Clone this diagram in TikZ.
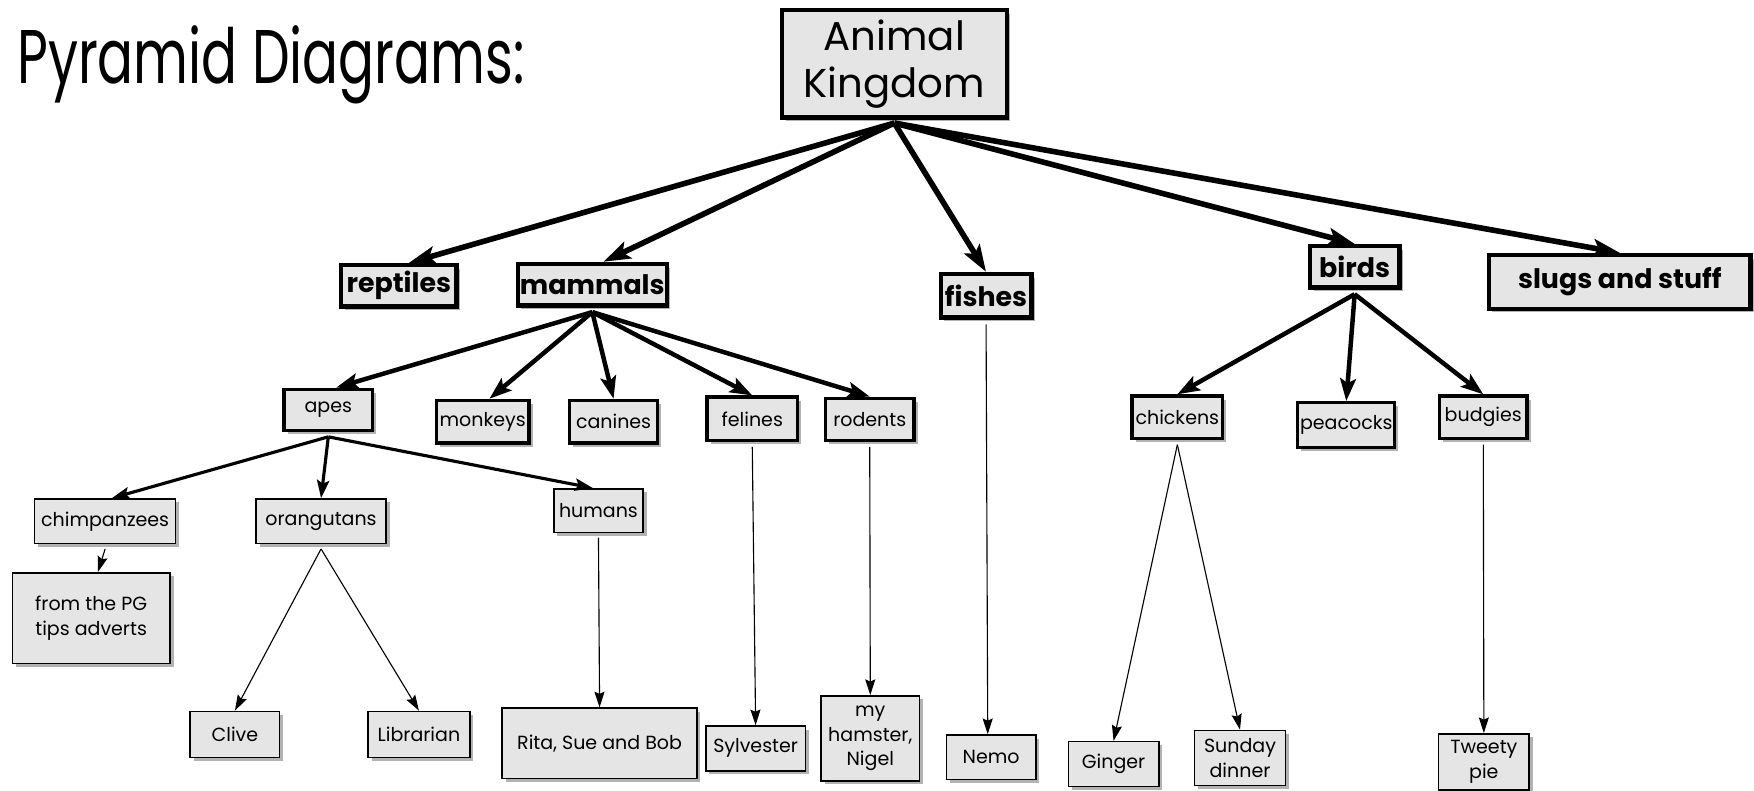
\documentclass[tikz,border=0pt]{standalone}
\usepackage{fontspec}
\setmainfont{Poppins}
\usetikzlibrary{arrows.meta}
\usetikzlibrary{shadows}

\tikzset{
  box/.style={rectangle, draw, fill=gray!20, inner sep=1pt, align=center,
    drop shadow={shadow xshift=1.6pt, shadow yshift=-1.6pt, fill=black!60}},
  kingbox/.style={box, line width=2pt, font=\fontsize{18}{21}\selectfont},
  topbox/.style={box, line width=2pt, font=\bfseries\fontsize{12}{14}\selectfont},
  midbox/.style={box, line width=1.5pt, font=\fontsize{8.5}{10}\selectfont},
  leafbox/.style={box, line width=0.7pt, font=\fontsize{8.5}{11}\selectfont},
  bigarrow/.style={line width=2.5pt, -{Stealth[length=12pt, width=8pt, inset=2.5pt]}},
  midarrow/.style={line width=2pt, -{Stealth[length=10pt, width=7pt, inset=2pt]}},
  smallarrow/.style={line width=1.4pt, -{Stealth[length=8pt, width=5.5pt, inset=1.5pt]}},
  thinarrow/.style={line width=0.5pt, -{Stealth[length=7pt, width=4.5pt, inset=1pt]}},
}

\begin{document}
\begin{tikzpicture}[x=0.5pt, y=-0.5pt]
  \useasboundingbox (0,0) rectangle (1568,707);

  \node[anchor=base west, inner sep=0pt, font=\fontsize{34}{36}\selectfont] (title) at (15,75) {\scalebox{0.7}[1]{Pyramid Diagrams:}};

  \node[kingbox, minimum width=100.5pt, minimum height=48pt] (ak) at (799.5,57) {Animal\\Kingdom};

  \node[topbox, minimum width=51.5pt, minimum height=18.5pt] (rep) at (356.5,255.5) {reptiles};
  \node[topbox, minimum width=66.5pt, minimum height=18.5pt] (mam) at (529.5,254.5) {mammals};
  \node[topbox, minimum width=40.5pt, minimum height=19.5pt] (fish) at (881.5,264.5) {fishes};
  \node[topbox, minimum width=40pt, minimum height=18.5pt] (bird) at (1211,238.5) {birds};
  \node[topbox, minimum width=117pt, minimum height=24pt] (slug) at (1448,252) {slugs and stuff};

  \node[midbox, minimum width=39.5pt, minimum height=18.5pt] (apes) at (293.5,366.5) {apes};
  \node[midbox, minimum width=41.5pt, minimum height=19pt] (monk) at (431.5,377) {monkeys};
  \node[midbox, minimum width=39.5pt, minimum height=19pt] (can) at (548.5,377) {canines};
  \node[midbox, minimum width=40.5pt, minimum height=19.5pt] (fel) at (672.5,374.5) {felines};
  \node[midbox, minimum width=39.5pt, minimum height=19pt] (rod) at (777.5,375) {rodents};
  \node[midbox, minimum width=40.5pt, minimum height=19pt] (chick) at (1052.5,373) {chickens};
  \node[midbox, minimum width=42.5pt, minimum height=20pt] (peac) at (1203.5,380) {peacocks};
  \node[midbox, minimum width=39pt, minimum height=19pt] (budg) at (1326,373) {budgies};

  \node[leafbox, minimum width=63pt, minimum height=20pt] (chimp) at (94,466) {chimpanzees};
  \node[leafbox, minimum width=58pt, minimum height=20pt] (orang) at (287,466) {orangutans};
  \node[leafbox, minimum width=40pt, minimum height=19.5pt] (hum) at (535,456.5) {humans};
  \node[leafbox, minimum width=70.5pt, minimum height=40.5pt] (pg) at (81.5,552.5) {from the PG\\tips adverts};
  \node[leafbox, minimum width=40pt, minimum height=20.5pt] (clive) at (210,656.5) {Clive};
  \node[leafbox, minimum width=45.5pt, minimum height=20.5pt] (lib) at (374.5,656.5) {Librarian};
  \node[leafbox, minimum width=87pt, minimum height=31.5pt] (rita) at (536,664.5) {Rita, Sue and Bob};
  \node[leafbox, minimum width=44.5pt, minimum height=20pt] (sylv) at (675.5,669) {Sylvester};
  \node[leafbox, minimum width=44pt, minimum height=38pt] (ham) at (778,660) {my\\hamster,\\Nigel};
  \node[leafbox, minimum width=40pt, minimum height=20pt] (nemo) at (886,677) {Nemo};
  \node[leafbox, minimum width=40.5pt, minimum height=20pt] (ging) at (995.5,683) {Ginger};
  \node[leafbox, minimum width=40.5pt, minimum height=24.5pt] (sund) at (1108.5,677.5) {Sunday\\dinner};
  \node[leafbox, minimum width=40.5pt, minimum height=25pt] (tweety) at (1326.5,681) {Tweety\\pie};

  \draw[bigarrow] ([yshift=-1.5pt]ak.south) -- ([xshift=4.5pt]rep.north);
  \draw[bigarrow] ([yshift=-1.5pt]ak.south) -- ([xshift=5pt]mam.north);
  \draw[bigarrow] ([yshift=-1.5pt]ak.south) -- (fish.north);
  \draw[bigarrow] ([yshift=-1.5pt]ak.south) -- (bird.north);
  \draw[bigarrow] ([yshift=-1.5pt]ak.south) -- (slug.north);

  \draw[midarrow] ([yshift=-2pt]mam.south) -- ([xshift=3.5pt]apes.north);
  \draw[midarrow] ([yshift=-2pt]mam.south) -- ([xshift=3pt]monk.north);
  \draw[midarrow] ([yshift=-2pt]mam.south) -- (can.north);
  \draw[midarrow] ([yshift=-2pt]mam.south) -- (fel.north);
  \draw[midarrow] ([yshift=-2pt]mam.south) -- (rod.north);

  \draw[midarrow] ([yshift=-2pt]bird.south) -- (chick.north);
  \draw[midarrow] ([yshift=-2pt]bird.south) -- (peac.north);
  \draw[midarrow] ([yshift=-2pt]bird.south) -- (budg.north);

  \draw[smallarrow] ([yshift=-2pt]apes.south) -- ([xshift=3pt]chimp.north);
  \draw[smallarrow] ([yshift=-2pt]apes.south) -- (orang.north);
  \draw[smallarrow] ([yshift=-2pt]apes.south) -- ([xshift=-2.5pt]hum.north);

  \draw[thinarrow] ([yshift=-2pt]chimp.south) -- ([xshift=3pt]pg.north);
  \draw[thinarrow] ([yshift=-2pt]orang.south) -- (clive.north);
  \draw[thinarrow] ([yshift=-2pt]orang.south) -- (lib.north);
  \draw[thinarrow] ([yshift=-2pt]hum.south) -- (rita.north);
  \draw[thinarrow] ([yshift=-2pt]fel.south) -- (sylv.north);
  \draw[thinarrow] ([yshift=-2pt]rod.south) -- (ham.north);
  \draw[thinarrow] ([yshift=-2pt]fish.south) -- ([xshift=-1.5pt]nemo.north);
  \draw[thinarrow] ([yshift=-2pt]chick.south) -- (ging.north);
  \draw[thinarrow] ([yshift=-2pt]chick.south) -- (sund.north);
  \draw[thinarrow] ([yshift=-2pt]budg.south) -- (tweety.north);
\end{tikzpicture}
\end{document}
